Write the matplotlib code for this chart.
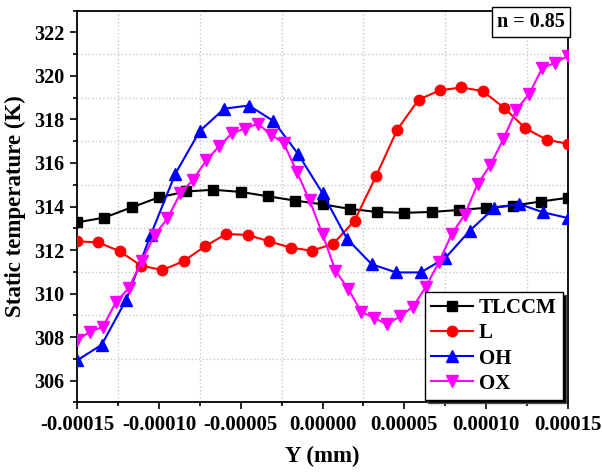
import numpy as np
import matplotlib
matplotlib.use('Agg')
import matplotlib.pyplot as plt
from matplotlib.ticker import MultipleLocator, FormatStrFormatter

plt.rcParams['font.family'] = ['Liberation Serif', 'DejaVu Serif']
plt.rcParams['font.weight'] = 'bold'

# data
x_tlccm = np.linspace(-0.00015, 0.00015, 19)
tlccm = [313.27, 313.49, 313.96, 314.42, 314.69, 314.77, 314.67, 314.47, 314.27, 314.10,
         313.89, 313.75, 313.71, 313.75, 313.84, 313.94, 314.04, 314.23, 314.40]

x_l = np.linspace(-0.00015, 0.00015, 24)
l = [312.40, 312.35, 311.94, 311.28, 311.08, 311.49, 312.18, 312.74, 312.69, 312.40,
     312.11, 311.97, 312.28, 313.35, 315.38, 317.53, 318.91, 319.34, 319.47, 319.31,
     318.54, 317.60, 317.07, 316.88]

x_oh = np.linspace(-0.00015, 0.00015, 21)
oh = [306.93, 307.64, 309.71, 312.69, 315.50, 317.47, 318.50, 318.64, 317.93, 316.42,
      314.61, 312.51, 311.35, 310.97, 310.97, 311.63, 312.89, 313.94, 314.12, 313.73, 313.47]

x_ox = np.linspace(-0.00015, 0.00015, 39)
ox = [307.85, 308.25, 308.47, 309.59, 310.25, 311.48, 312.69, 313.45, 314.61, 315.24,
      316.12, 316.77, 317.37, 317.58, 317.81, 317.30, 316.91, 315.60, 314.28, 312.73,
      311.05, 310.20, 309.16, 308.88, 308.58, 308.96, 309.39, 310.31, 311.43, 312.73,
      313.62, 315.02, 315.92, 317.10, 318.44, 319.18, 320.35, 320.61, 320.92]

fig = plt.figure(figsize=(6.02, 4.75), dpi=100)
ax = fig.add_axes([0.128, 0.153, 0.8155, 0.8245])

ax.plot(x_tlccm, tlccm, color='black', lw=1.5, marker='s', markersize=6.5, label='TLCCM', zorder=3)
ax.plot(x_l, l, color='red', lw=1.5, marker='o', markersize=7.5, label='L', zorder=3)
ax.plot(x_oh, oh, color='blue', lw=1.5, marker='^', markersize=8, label='OH', zorder=3)
ax.plot(x_ox, ox, color='magenta', lw=1.5, marker='v', markersize=8, label='OX', zorder=3)

ax.set_xlim(-0.00015, 0.00015)
ax.set_ylim(305, 323)
ax.xaxis.set_major_locator(MultipleLocator(0.00005))
ax.xaxis.set_minor_locator(MultipleLocator(0.000025))
ax.xaxis.set_major_formatter(FormatStrFormatter('%.5f'))
ax.yaxis.set_major_locator(MultipleLocator(2))
ax.yaxis.set_minor_locator(MultipleLocator(1))
ax.tick_params(which='both', direction='out', top=False, right=False, width=1.2, labelsize=14.5)
ax.tick_params(axis='x', labelsize=15)
ax.tick_params(which='major', length=5, pad=4)
ax.tick_params(which='minor', length=3)
for lab in ax.get_xticklabels() + ax.get_yticklabels():
    lab.set_fontweight('bold')
ax.grid(which='minor', color='#c8c8c8', linestyle=':', lw=1)
ax.grid(which='major', visible=False)
for s in ax.spines.values():
    s.set_linewidth(1.3)

ax.set_xlabel('Y (mm)', fontsize=16.5, fontweight='bold', labelpad=8)
ax.set_ylabel('Static temperature (K)', fontsize=16.5, fontweight='bold', labelpad=6)

leg = ax.legend(loc='lower right', bbox_to_anchor=(0.99, 0.006), borderaxespad=0,
                fontsize=15, frameon=True, fancybox=False,
                edgecolor='black', framealpha=1, handlelength=2.0, handletextpad=0.3,
                labelspacing=0.25, borderpad=0.3,
                shadow={'facecolor': 'black', 'alpha': 1})
leg.get_frame().set_linewidth(1.0)

ax.text(0.993, 0.997, 'n = 0.85', transform=ax.transAxes, ha='right', va='top',
        fontsize=14.5, fontweight='bold',
        bbox=dict(boxstyle='square,pad=0.25', facecolor='white', edgecolor='black', lw=1))

plt.savefig('out.png', dpi=100)
